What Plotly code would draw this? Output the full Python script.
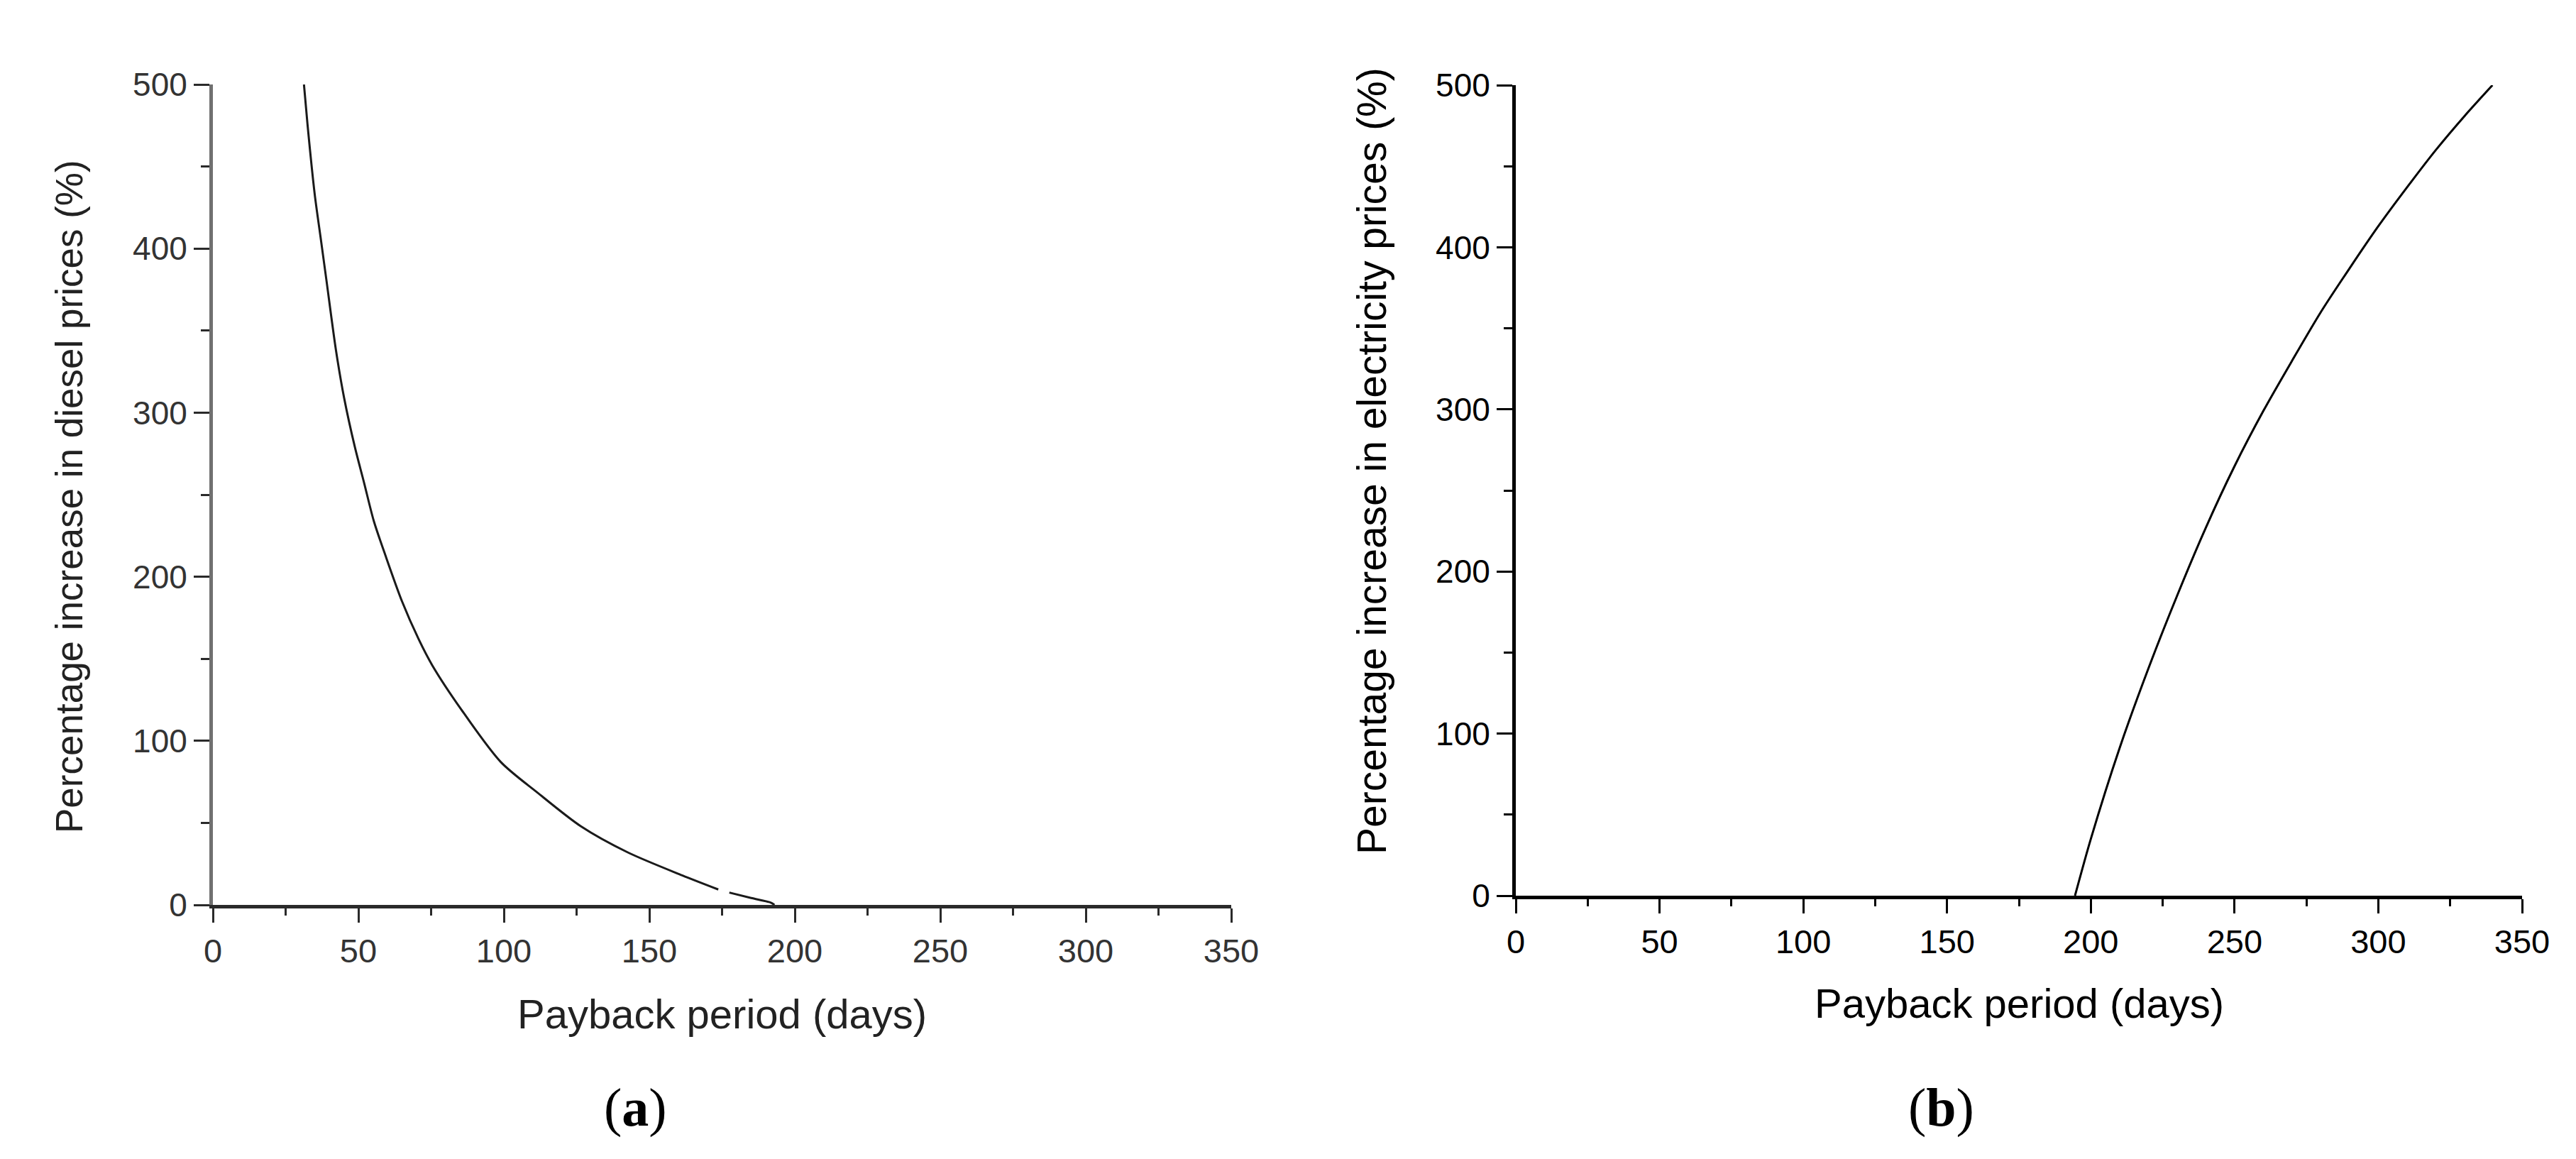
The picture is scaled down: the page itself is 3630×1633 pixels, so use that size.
import plotly.graph_objects as go

# ---------------- data ----------------
# (a) diesel price increase vs payback period
diesel_days = [31.3, 32.5, 35.0, 37.0, 39.0, 42.3, 45.1, 48.8, 52.0, 55.3, 59.3, 65.0,
               70.7, 75.4, 85.4, 99.0, 111.5, 126.4, 142.6, 161.3, 173.7, None,
               177.5, 185.0, 191.8, 193.0]
diesel_pct = [500, 476, 433, 407, 381, 338, 309, 279, 257, 234, 213, 185,
              162, 146, 119, 87, 68.5, 48, 32, 18, 9.4, None,
              7.5, 4.2, 1.4, 0]

# (b) electricity price increase vs payback period
elec_days = [194.5, 200, 210, 220, 230, 240, 250, 260, 270, 280,
             290, 300, 310, 320, 330, 339.7]
elec_pct = [0, 35, 91, 140, 185, 227, 265, 299, 330, 360,
            387, 413, 437, 460, 481, 500]

x_ticks = [0, 50, 100, 150, 200, 250, 300, 350]
y_ticks = [0, 100, 200, 300, 400, 500]
x_title = "Payback period (days)"
y_title_a = "Percentage increase in diesel prices (%)"
y_title_b = "Percentage increase in electricity prices (%)"
panel_labels = ["(<b>a</b>)", "(<b>b</b>)"]

# ---------------- figure ----------------
PAGE_W, PAGE_H = 3630, 1633
BODY = 8  # default page margin around the plot div
W, H = PAGE_W - 2 * BODY, PAGE_H - 2 * BODY
FONT = "Liberation Sans, Arial, sans-serif"

fig = go.Figure()
fig.add_trace(go.Scatter(x=diesel_days, y=diesel_pct, mode="lines",
                         line=dict(color="#1a1a1a", width=3, shape="spline", smoothing=0.8),
                         xaxis="x", yaxis="y", showlegend=False, connectgaps=False))
fig.add_trace(go.Scatter(x=elec_days, y=elec_pct, mode="lines",
                         line=dict(color="black", width=3, shape="spline", smoothing=0.8),
                         xaxis="x2", yaxis="y2", showlegend=False))


def px_x(p):
    return (p - BODY) / W


def px_y(p):
    return 1 - (p - BODY) / H


def xax(domain, linecolor, tickcolor, fontcolor):
    return dict(domain=domain, range=[0, 350], tickvals=x_ticks, ticks="outside",
                ticklen=20, tickwidth=3, tickcolor=tickcolor,
                showline=True, linewidth=5, linecolor=linecolor,
                showgrid=False, zeroline=False, automargin=False,
                tickfont=dict(family=FONT, size=47, color=fontcolor),
                minor=dict(dtick=25, ticks="outside", ticklen=10, tickwidth=3,
                           tickcolor=tickcolor, showgrid=False),
                fixedrange=True)


def yax(domain, anchor, linecolor, tickcolor, fontcolor):
    return dict(domain=domain, range=[0, 500], tickvals=y_ticks, ticks="outside",
                ticklen=22, tickwidth=3, tickcolor=tickcolor, anchor=anchor,
                showline=True, linewidth=5, linecolor=linecolor,
                showgrid=False, zeroline=False, automargin=False,
                tickfont=dict(family=FONT, size=46, color=fontcolor),
                minor=dict(dtick=50, ticks="outside", ticklen=12, tickwidth=3,
                           tickcolor=tickcolor, showgrid=False),
                fixedrange=True)


fig.update_layout(
    width=W, height=H,
    margin=dict(l=0, r=0, t=0, b=0, pad=0),
    paper_bgcolor="white", plot_bgcolor="white",
    xaxis=dict(**xax([px_x(300), px_x(1735)], "#2a2a2a", "#2a2a2a", "#333333"), anchor="y"),
    yaxis=yax([px_y(1275), px_y(119)], "x", "#707070", "#2a2a2a", "#333333"),
    xaxis2=dict(**xax([px_x(2136), px_x(3554)], "black", "black", "black"), anchor="y2"),
    yaxis2=yax([px_y(1262), px_y(120)], "x2", "black", "black", "black"),
)

annotations = [
    dict(text=x_title, x=px_x(1018), y=px_y(1428), xref="paper", yref="paper",
         showarrow=False, xanchor="center", yanchor="middle",
         font=dict(family=FONT, size=58, color="#222222")),
    dict(text=x_title, x=px_x(2845), y=px_y(1413), xref="paper", yref="paper",
         showarrow=False, xanchor="center", yanchor="middle",
         font=dict(family=FONT, size=58, color="black")),
    dict(text=y_title_a, x=px_x(97), y=px_y(700), xref="paper", yref="paper",
         showarrow=False, xanchor="center", yanchor="middle", textangle=-90,
         font=dict(family=FONT, size=53, color="#222222")),
    dict(text=y_title_b, x=px_x(1933), y=px_y(650), xref="paper", yref="paper",
         showarrow=False, xanchor="center", yanchor="middle", textangle=-90,
         font=dict(family=FONT, size=57, color="black")),
    dict(text=panel_labels[0], x=px_x(895), y=px_y(1560), xref="paper", yref="paper",
         showarrow=False, xanchor="center", yanchor="middle",
         font=dict(family="Liberation Serif, Times New Roman, serif", size=76, color="black")),
    dict(text=panel_labels[1], x=px_x(2735), y=px_y(1560), xref="paper", yref="paper",
         showarrow=False, xanchor="center", yanchor="middle",
         font=dict(family="Liberation Serif, Times New Roman, serif", size=76, color="black")),
]
fig.update_layout(annotations=annotations)

fig.write_html("out.html")
